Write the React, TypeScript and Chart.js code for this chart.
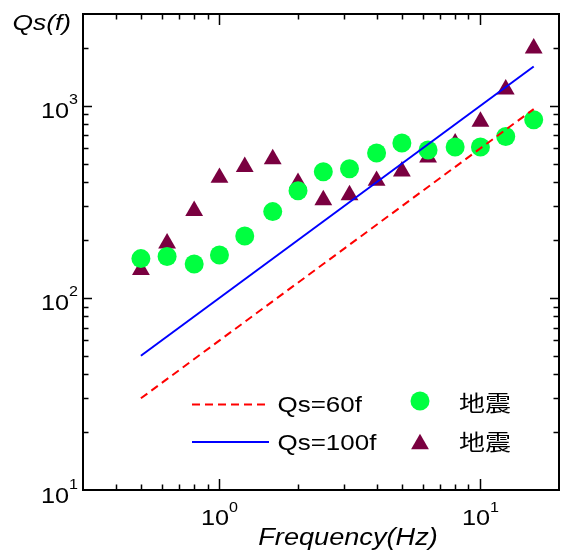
import React, { useEffect, useRef } from 'react';
import { Chart, registerables } from 'chart.js';

Chart.register(...registerables);

// ---- data ----
const freqs = [0.5, 0.63, 0.8, 1, 1.25, 1.6, 2, 2.5, 3.15, 4, 5, 6.3, 8, 10, 12.5, 16];
const qsCircles = [160, 164, 150, 167, 210, 281, 361, 453, 470, 567, 639, 588, 609, 609, 692, 845];
const qsTriangles = [140, 192, 284, 422, 481, 528, 397, 323, 343, 407, 455, 539, 637, 826, 1218, 1990];
const lineFreqs = [0.5, 16];
const qs60 = [30, 960];
const qs100 = [50, 1600];
const xMajorTicks = [1, 10];
const xMajorExps = ['0', '1'];
const yMajorTicks = [10, 100, 1000];
const yMajorExps = ['1', '2', '3'];
const legendLabels = ['Qs=60f', 'Qs=100f', '地震', '地震'];
const xTitle = 'Frequency(Hz)';
const yTitle = 'Qs(f)';

const FONT = '"Liberation Sans", Arial, "Noto Sans CJK JP", sans-serif';
const SX = 1.18;

function stretchText(ctx: CanvasRenderingContext2D, text: string, x: number, y: number, font: string, sx: number, align: 'left' | 'center' | 'right' = 'left') {
  ctx.save();
  ctx.font = font;
  ctx.textBaseline = 'alphabetic';
  ctx.textAlign = 'left';
  const w = ctx.measureText(text).width * sx;
  let left = x;
  if (align === 'center') left = x - w / 2;
  else if (align === 'right') left = x - w;
  ctx.translate(left, y);
  ctx.scale(sx, 1);
  ctx.fillStyle = '#000';
  ctx.fillText(text, 0, 0);
  ctx.restore();
  return w;
}

function measure(ctx: CanvasRenderingContext2D, text: string, font: string, sx: number) {
  ctx.save();
  ctx.font = font;
  const w = ctx.measureText(text).width * sx;
  ctx.restore();
  return w;
}

const decorPlugin = {
  id: 'decor',
  afterDatasetsDraw(chart: any) {
    const ctx: CanvasRenderingContext2D = chart.ctx;
    const ca = chart.chartArea;
    const xs = chart.scales.x;
    const ys = chart.scales.y;
    ctx.save();
    // frame
    ctx.strokeStyle = '#000';
    ctx.lineWidth = 2;
    ctx.setLineDash([]);
    ctx.strokeRect(ca.left, ca.top, ca.right - ca.left, ca.bottom - ca.top);

    // ticks
    ctx.lineWidth = 1.5;
    const tickVals = (min: number, max: number) => {
      const out: { v: number; major: boolean }[] = [];
      for (let d = Math.floor(Math.log10(min)); d <= Math.ceil(Math.log10(max)); d++) {
        for (let m = 1; m <= 9; m++) {
          const v = m * Math.pow(10, d);
          if (v > min * 1.0001 && v < max * 0.9999) out.push({ v, major: m === 1 });
        }
      }
      return out;
    };
    const MAJ = 11;
    const MIN = 5.5;
    for (const t of tickVals(xs.min, xs.max)) {
      const px = Math.round(xs.getPixelForValue(t.v)) + 0.5;
      const len = t.major ? MAJ : MIN;
      ctx.beginPath();
      ctx.moveTo(px, ca.bottom);
      ctx.lineTo(px, ca.bottom - len);
      ctx.moveTo(px, ca.top);
      ctx.lineTo(px, ca.top + len);
      ctx.stroke();
    }
    for (const t of tickVals(ys.min, ys.max)) {
      const py = Math.round(ys.getPixelForValue(t.v)) + 0.5;
      const len = t.major ? MAJ - 2 : MIN;
      ctx.beginPath();
      ctx.moveTo(ca.left, py);
      ctx.lineTo(ca.left + len, py);
      ctx.moveTo(ca.right, py);
      ctx.lineTo(ca.right - len, py);
      ctx.stroke();
    }

    // tick labels
    const baseFont = `22px ${FONT}`;
    const expFont = `14px ${FONT}`;
    const sxT = 1.15;
    xMajorTicks.forEach((v, i) => {
      const px = xs.getPixelForValue(v);
      const w1 = measure(ctx, '10', baseFont, sxT);
      const w2 = measure(ctx, xMajorExps[i], expFont, sxT);
      const left = px - (w1 + w2) / 2;
      stretchText(ctx, '10', left, ca.bottom + 34.5, baseFont, sxT);
      stretchText(ctx, xMajorExps[i], left + w1, ca.bottom + 21.5, expFont, sxT);
    });
    yMajorTicks.forEach((v, i) => {
      const py = ys.getPixelForValue(v);
      const right = ca.left - 5;
      const w2 = measure(ctx, yMajorExps[i], expFont, sxT);
      stretchText(ctx, yMajorExps[i], right - w2, py - 1.5, expFont, sxT);
      stretchText(ctx, '10', right - w2, py + 12.5, baseFont, sxT, 'right');
    });

    // axis titles
    stretchText(ctx, xTitle, 348, 545, `italic 23px ${FONT}`, SX, 'center');
    stretchText(ctx, yTitle, 12.5, 29.5, `italic 22px ${FONT}`, 1.2);

    // legend
    const ds = chart.data.datasets;
    const lx1 = 192, lx2 = 269;
    const rowY = [404.5, 442];
    ctx.lineWidth = 2;
    ctx.strokeStyle = ds[0].borderColor;
    ctx.setLineDash(ds[0].borderDash);
    ctx.beginPath();
    ctx.moveTo(lx1, rowY[0]);
    ctx.lineTo(lx2, rowY[0]);
    ctx.stroke();
    ctx.setLineDash([]);
    ctx.strokeStyle = ds[1].borderColor;
    ctx.beginPath();
    ctx.moveTo(lx1, rowY[1]);
    ctx.lineTo(lx2, rowY[1]);
    ctx.stroke();
    stretchText(ctx, legendLabels[0], 277.5, rowY[0] + 7.8, `22px ${FONT}`, SX);
    stretchText(ctx, legendLabels[1], 277.5, rowY[1] + 7.8, `22px ${FONT}`, SX);

    // circle marker
    ctx.fillStyle = ds[2].backgroundColor;
    ctx.beginPath();
    ctx.arc(420, 401, ds[2].pointRadius, 0, Math.PI * 2);
    ctx.fill();
    // triangle marker
    const r = ds[3].pointRadius;
    const tcx = 420, tcy = 444;
    ctx.fillStyle = ds[3].backgroundColor;
    ctx.beginPath();
    ctx.moveTo(tcx, tcy - r);
    ctx.lineTo(tcx + Math.sin((2 * Math.PI) / 3) * r, tcy + r / 2);
    ctx.lineTo(tcx - Math.sin((2 * Math.PI) / 3) * r, tcy + r / 2);
    ctx.closePath();
    ctx.fill();
    stretchText(ctx, legendLabels[2], 459, 410.5, `22px ${FONT}`, SX);
    stretchText(ctx, legendLabels[3], 459, 449.5, `22px ${FONT}`, SX);

    ctx.restore();
  },
};

export default function App() {
  const ref = useRef<HTMLCanvasElement | null>(null);
  useEffect(() => {
    if (!ref.current) return;
    const chart = new Chart(ref.current, {
      type: 'scatter',
      data: {
        datasets: [
          {
            label: legendLabels[0],
            data: lineFreqs.map((f, i) => ({ x: f, y: qs60[i] })),
            showLine: true,
            borderColor: '#FF0000',
            borderWidth: 2,
            borderDash: [8, 5],
            pointRadius: 0,
            order: 0,
          },
          {
            label: legendLabels[1],
            data: lineFreqs.map((f, i) => ({ x: f, y: qs100[i] })),
            showLine: true,
            borderColor: '#0000FF',
            borderWidth: 2,
            pointRadius: 0,
            order: 1,
          },
          {
            label: legendLabels[2],
            data: freqs.map((f, i) => ({ x: f, y: qsCircles[i] })),
            pointStyle: 'circle',
            pointRadius: 9.5,
            backgroundColor: '#00FF40',
            borderWidth: 0,
            order: 2,
          },
          {
            label: legendLabels[3],
            data: freqs.map((f, i) => ({ x: f, y: qsTriangles[i] })),
            pointStyle: 'triangle',
            pointRadius: 10.3,
            backgroundColor: '#7A0040',
            borderWidth: 0,
            order: 3,
          },
        ] as any,
      },
      options: {
        responsive: false,
        animation: false,
        devicePixelRatio: 1,
        layout: { autoPadding: false, padding: { left: 83, top: 14, right: 3, bottom: 63 } },
        plugins: { legend: { display: false }, tooltip: { enabled: false } },
        scales: {
          x: { type: 'logarithmic', min: 0.3, max: 20, display: false },
          y: { type: 'logarithmic', min: 10, max: 3000, display: false },
        },
      },
      plugins: [decorPlugin],
    });
    return () => chart.destroy();
  }, []);
  return (
    <div style={{ position: 'absolute', left: 0, top: 0, width: 562, height: 553, background: '#fff' }}>
      <canvas ref={ref} width={562} height={553} style={{ display: 'block' }} />
    </div>
  );
}
